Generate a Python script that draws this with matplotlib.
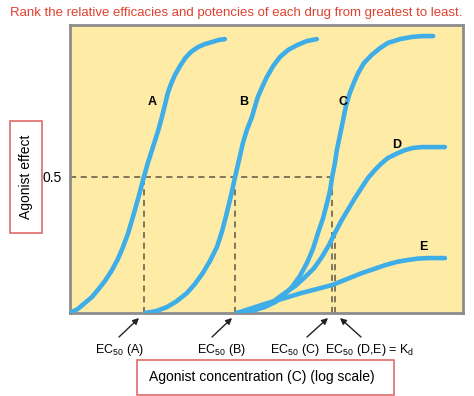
import matplotlib
matplotlib.use('Agg')
import matplotlib.pyplot as plt
from matplotlib.patches import Rectangle

plt.rcParams['font.family'] = ['Liberation Sans', 'DejaVu Sans']
plt.rcParams['mathtext.fontset'] = 'custom'
plt.rcParams['mathtext.rm'] = 'Liberation Sans'
plt.rcParams['mathtext.it'] = 'Liberation Sans:italic'

# curves (x: log concentration, arbitrary units; y: effect)
a_x = [0, 0.20, 0.38, 0.56, 0.71, 0.89, 1.07, 1.22, 1.35, 1.48, 1.60, 1.73, 1.88, 1.98, 2.11,
       2.24, 2.34, 2.42, 2.49, 2.57, 2.67, 2.80, 2.93, 3.08, 3.26, 3.44, 3.61, 3.79, 3.94]
a_y = [0, 0.015, 0.037, 0.059, 0.085, 0.118, 0.158, 0.199, 0.243, 0.294, 0.353, 0.419, 0.500, 0.551, 0.610,
       0.669, 0.721, 0.768, 0.809, 0.842, 0.875, 0.908, 0.937, 0.960, 0.978, 0.989, 0.996, 1.004, 1.007]
b_x = [1.91, 2.19, 2.47, 2.72, 2.98, 3.18, 3.38, 3.56, 3.74, 3.87, 3.99, 4.10, 4.20, 4.30,
       4.40, 4.50, 4.63, 4.71, 4.78, 4.89, 5.01, 5.17, 5.34, 5.55, 5.78, 6.03, 6.28]
b_y = [0, 0.007, 0.022, 0.044, 0.074, 0.107, 0.147, 0.191, 0.243, 0.301, 0.368, 0.434, 0.500, 0.562,
       0.625, 0.673, 0.721, 0.761, 0.794, 0.831, 0.868, 0.908, 0.941, 0.967, 0.985, 1.000, 1.007]
c_x = [4.25, 4.48, 4.71, 4.96, 5.22, 5.45, 5.65, 5.85, 6.03, 6.18, 6.31, 6.44, 6.54, 6.62, 6.67, 6.74,
       6.79, 6.87, 6.95, 7.02, 7.12, 7.23, 7.33, 7.48, 7.68, 7.89, 8.09, 8.40, 8.70, 8.96, 9.24]
c_y = [0, 0.004, 0.011, 0.022, 0.040, 0.066, 0.096, 0.136, 0.184, 0.235, 0.294, 0.349, 0.404, 0.452, 0.500, 0.551,
       0.599, 0.654, 0.710, 0.761, 0.809, 0.849, 0.882, 0.919, 0.949, 0.974, 0.993, 1.007, 1.015, 1.018, 1.018]
d_x = [4.25, 4.58, 4.89, 5.19, 5.47, 5.73, 5.98, 6.21, 6.41, 6.59, 6.74, 6.90, 7.07, 7.25, 7.43,
       7.58, 7.76, 7.91, 8.09, 8.30, 8.52, 8.73, 8.96, 9.24, 9.54]
d_y = [0, 0.007, 0.022, 0.044, 0.074, 0.099, 0.132, 0.165, 0.206, 0.250, 0.294, 0.338, 0.379, 0.423, 0.463,
       0.496, 0.526, 0.548, 0.570, 0.585, 0.599, 0.607, 0.610, 0.610, 0.610]
e_x = [4.25, 4.63, 5.04, 5.47, 5.90, 6.28, 6.67, 7.05, 7.43, 7.74, 8.02, 8.32, 8.60, 8.85, 9.11, 9.54]
e_y = [0, 0.018, 0.037, 0.055, 0.074, 0.088, 0.103, 0.125, 0.147, 0.162, 0.176, 0.188, 0.195, 0.200, 0.202, 0.202]

ec50_x = [1.88, 4.20, 6.67, 6.74]   # A, B, C, D/E
ec50_y = [0.5, 0.5, 0.5, 0.294]

W, H = 474, 396
fig = plt.figure(figsize=(W / 100, H / 100), dpi=100)
fig.patch.set_facecolor('white')


def px(x, y):
    # image pixel -> figure fraction
    return x / W, 1 - y / H


ax = fig.add_axes([70 / W, 1 - 313 / H, 393 / W, 288 / H])
ax.set_facecolor('#feeca6')
ax.set_xlim(0, 10)
ax.set_ylim(0, 288 / 272)
for s in ax.spines.values():
    s.set_color('#8c8c8c')
    s.set_linewidth(2)
ax.set_xticks([])
ax.set_yticks([0.5])
ax.set_yticklabels(['0.5'], fontsize=10)
ax.tick_params(axis='y', length=0, pad=6)

# dashed guide lines
dash = dict(color='#5e5545', lw=1.1, linestyle=(0, (4, 3)), zorder=2)
ax.plot([0, ec50_x[2]], [0.5, 0.5], **dash)
for xv, yv in zip(ec50_x, ec50_y):
    ax.plot([xv, xv], [0, yv], **dash)

blue = '#3fade8'
for xs, ys in [(a_x, a_y), (b_x, b_y), (c_x, c_y), (d_x, d_y), (e_x, e_y)]:
    ax.plot(xs, ys, color=blue, lw=3.3, solid_capstyle='round', solid_joinstyle='round', zorder=3)

lbl = dict(fontsize=9, fontweight='bold', ha='center', va='center')
ax.text(2.09, 0.776, 'A', **lbl)
ax.text(4.43, 0.776, 'B', **lbl)
ax.text(6.95, 0.776, 'C', **lbl)
ax.text(8.32, 0.617, 'D', **lbl)
ax.text(8.98, 0.243, 'E', **lbl)

# arrows to the EC50 positions
tails = [(119, 337), (212, 337), (307, 337), (361, 337)]
tips = [(139, 318), (232, 318), (328, 318), (340, 318)]
for t, h in zip(tails, tips):
    ax.annotate('', xy=px(*h), xycoords='figure fraction',
                xytext=px(*t), textcoords='figure fraction',
                arrowprops=dict(arrowstyle='-|>', color='#222222', lw=1,
                                mutation_scale=9, shrinkA=0, shrinkB=0))

tk = dict(fontsize=9, ha='center', va='center')
fig.text(*px(119, 350), 'EC$_\\mathrm{50}$ (A)', **tk)
fig.text(*px(221, 350), 'EC$_\\mathrm{50}$ (B)', **tk)
fig.text(*px(295, 350), 'EC$_\\mathrm{50}$ (C)', **tk)
fig.text(*px(370, 350), 'EC$_\\mathrm{50}$ (D,E) = K$_\\mathrm{d}$', **tk)

# title
fig.text(*px(236, 13), 'Rank the relative efficacies and potencies of each drug from greatest to least.',
         fontsize=9.5, color='#e0412f', ha='center', va='center')

# y label box
fig.patches.append(Rectangle(px(10, 233), 32 / W, 112 / H, transform=fig.transFigure,
                             facecolor='white', edgecolor='#e06a6a', lw=1.2))
fig.text(*px(26, 177), 'Agonist effect', rotation=90, fontsize=10, ha='center', va='center')

# x label box
fig.patches.append(Rectangle(px(137, 395), 257 / W, 35 / H, transform=fig.transFigure,
                             facecolor='white', edgecolor='#e06a6a', lw=1.2))
fig.text(*px(262, 377), 'Agonist concentration (C) (log scale)', fontsize=10, ha='center', va='center')

fig.savefig('out.png', dpi=100, facecolor='white')
